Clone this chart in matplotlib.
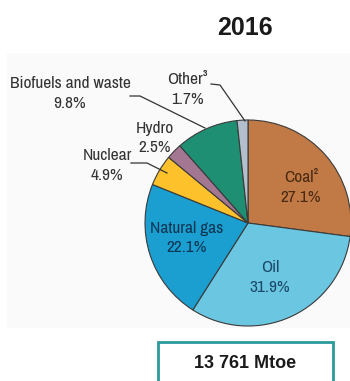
import matplotlib
matplotlib.use("Agg")
import matplotlib.pyplot as plt
from matplotlib import font_manager
from matplotlib.patches import Rectangle

# share of total primary energy supply, 2016
fuels = ["Coal²", "Oil", "Natural gas", "Nuclear", "Hydro",
         "Biofuels and waste", "Other³"]
shares = [27.1, 31.9, 22.1, 4.9, 2.5, 9.8, 1.7]
colors = ["#c17a45", "#6bc6e1", "#1b9fd0", "#fdc22b", "#a37692",
          "#1e8f72", "#b3bfcd"]
year = "2016"
total = "13 761 Mtoe"

W, H = 350, 381
BOLD = ["Liberation Sans", "DejaVu Sans"]

# narrow face for the slice labels, plain Liberation Sans otherwise
installed = {f.name for f in font_manager.fontManager.ttflist}
if "Archivo Narrow" in installed:
    NARROW, LSIZE = ["Archivo Narrow", "DejaVu Sans"], 12.5
else:
    NARROW, LSIZE = ["Liberation Sans", "DejaVu Sans"], 10


def iy(y):
    # image rows count downwards
    return H - y


fig = plt.figure(figsize=(W / 100, H / 100), dpi=100)
ax = fig.add_axes([0, 0, 1, 1])

# faint backdrop behind the pie
ax.add_patch(Rectangle((7, iy(328)), W - 7, 275, facecolor="#fafafa",
                       edgecolor="none", zorder=0))

ax.pie(shares, colors=colors, startangle=90, counterclock=False,
       center=(248, iy(223)), radius=103, frame=True,
       wedgeprops=dict(edgecolor="#3a3a3a", linewidth=0.8))
ax.set_xlim(0, W)
ax.set_ylim(0, H)
ax.set_aspect("auto")
ax.axis("off")

ax.text(245, iy(28), year, ha="center", va="center", fontsize=18,
        fontweight="bold", family=BOLD, color="#1a1a1a")

# slice labels: (x, y of first line, text colour)
label_pos = {
    "Coal²": (301, 177, "#4a2a12"),
    "Oil": (270, 268, "#1b4a68"),
    "Natural gas": (187, 228, "#0e3553"),
    "Nuclear": (107, 155, "#333333"),
    "Hydro": (155, 128, "#333333"),
    "Biofuels and waste": (70, 83, "#333333"),
    "Other³": (187, 80, "#333333"),
}
for name, val in zip(fuels, shares):
    x, y, c = label_pos[name]
    ax.text(x, iy(y), name, ha="center", va="center", fontsize=LSIZE,
            family=NARROW, color=c)
    ax.text(x, iy(y + 20), f"{val}%", ha="center", va="center",
            fontsize=LSIZE, family=NARROW, color=c)

# leader lines
leaders = [
    [(130, 96), (140, 96), (205, 128)],
    [(211, 84), (220, 85), (245, 121)],
    [(131, 163), (147, 163), (167, 173)],
]
for pts in leaders:
    ax.plot([p[0] for p in pts], [iy(p[1]) for p in pts],
            color="#333333", lw=0.9)

ax.add_patch(Rectangle((158, iy(388)), 175, 46, facecolor="white",
                       edgecolor="#2a9a9e", linewidth=2, zorder=3))
ax.text(245, iy(363), total, ha="center", va="center", fontsize=13,
        fontweight="bold", family=BOLD, color="#1a1a1a", zorder=4)

fig.savefig("out.png", dpi=100)
